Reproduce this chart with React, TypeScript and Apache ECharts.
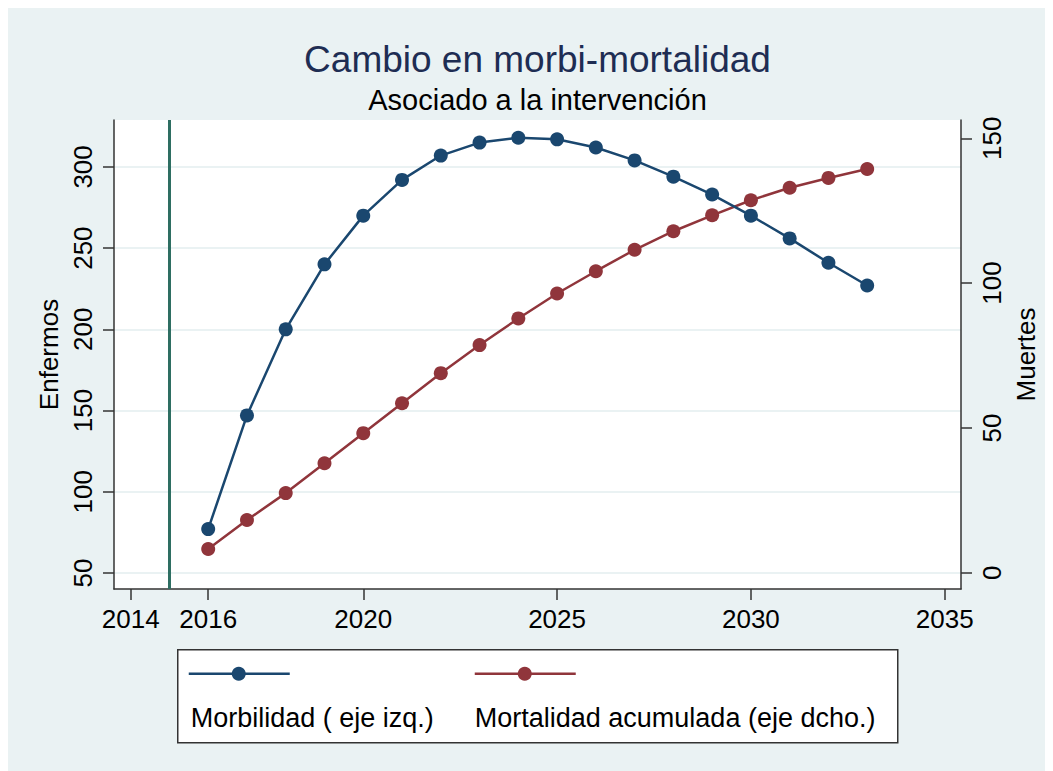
import React, { useEffect, useRef } from "react";
import * as echarts from "echarts";

const years = [2016, 2017, 2018, 2019, 2020, 2021, 2022, 2023, 2024, 2025, 2026, 2027, 2028, 2029, 2030, 2031, 2032, 2033];
const morbilidad = [77, 147, 200, 240, 270, 292, 307, 315, 318, 317, 312, 304, 294, 283, 270, 256, 241, 227];
const mortalidad = [8.2, 18.2, 27.5, 37.8, 48.2, 58.5, 68.9, 78.6, 87.8, 96.4, 104.1, 111.5, 117.9, 123.4, 128.6, 132.9, 136.3, 139.4];
const interventionYear = 2015;
const xTicks = [2014, 2016, 2020, 2025, 2030, 2035];
const leftTicks = [50, 100, 150, 200, 250, 300];
const rightTicks = [0, 50, 100, 150];

const titleText = "Cambio en morbi-mortalidad";
const subtitleText = "Asociado a la intervención";
const leftName = "Enfermos";
const rightName = "Muertes";
const legendNames = ["Morbilidad ( eje izq.)", "Mortalidad acumulada (eje dcho.)"];

const FONT = "'Liberation Sans', Arial, sans-serif";
const BLUE = "#1A476F";
const RED = "#90353B";
const TEAL = "#2E6E62";
const BG = "#EAF2F3";
const AXIS = "#333333";

export default function App() {
  const ref = useRef<HTMLDivElement>(null);
  useEffect(() => {
    if (!ref.current) return;
    const chart = echarts.init(ref.current, null, { renderer: "svg" });
    const blueData = years.map((y, i) => [y, morbilidad[i]]);
    const redData = years.map((y, i) => [y, mortalidad[i]]);
    const axisLine = { show: true, lineStyle: { color: AXIS, width: 1.5 } };
    const axisTickBase = { show: true, length: 11, inside: false, lineStyle: { color: AXIS, width: 1.5 } };
    const labelBase = { color: "#000", fontSize: 26, fontFamily: FONT, formatter: (v: number) => String(v) };
    chart.setOption({
      animation: false,
      backgroundColor: BG,
      textStyle: { fontFamily: FONT },
      title: [
        {
          text: titleText,
          left: 524.5,
          top: 28,
          textAlign: "center",
          textStyle: { color: "#1E2D53", fontSize: 37, fontWeight: "normal", fontFamily: FONT },
        },
        {
          text: subtitleText,
          left: 524.5,
          top: 72,
          textAlign: "center",
          textStyle: { color: "#000", fontSize: 29, fontWeight: "normal", fontFamily: FONT },
        },
      ],
      grid: {
        left: 106,
        top: 112,
        right: 92,
        bottom: 182,
        show: true,
        backgroundColor: "#ffffff",
        borderWidth: 0,
        containLabel: false,
      },
      xAxis: {
        type: "value",
        min: 2013.57,
        max: 2035.42,
        axisLine: { ...axisLine, onZero: false },
        axisTick: { ...axisTickBase, customValues: xTicks },
        axisLabel: { ...labelBase, customValues: xTicks, margin: 17 },
        splitLine: { show: false },
      },
      yAxis: [
        {
          type: "value",
          position: "left",
          min: 40.1,
          max: 328.9,
          name: leftName,
          nameLocation: "middle",
          nameGap: 50,
          nameTextStyle: { color: "#000", fontSize: 26, fontFamily: FONT },
          axisLine: { ...axisLine, onZero: false },
          axisTick: { ...axisTickBase, customValues: leftTicks },
          axisLabel: { ...labelBase, customValues: leftTicks, rotate: 90, margin: 18 },
          splitLine: { show: true, lineStyle: { color: BG, width: 2 } },
        },
        {
          type: "value",
          position: "right",
          min: -5.6,
          max: 156.3,
          name: rightName,
          nameLocation: "middle",
          nameGap: 46,
          nameRotate: 90,
          nameTextStyle: { color: "#000", fontSize: 26, fontFamily: FONT },
          axisLine: { ...axisLine, onZero: false },
          axisTick: { ...axisTickBase, customValues: rightTicks },
          axisLabel: { ...labelBase, customValues: rightTicks, rotate: 90, margin: 18 },
          splitLine: { show: false },
        },
      ],
      series: [
        {
          name: legendNames[0],
          type: "line",
          yAxisIndex: 0,
          data: blueData,
          symbol: "circle",
          symbolSize: 14,
          lineStyle: { color: BLUE, width: 2.5 },
          itemStyle: { color: BLUE },
          markLine: {
            silent: true,
            symbol: "none",
            label: { show: false },
            lineStyle: { color: TEAL, width: 3, type: "solid" },
            data: [{ xAxis: interventionYear }],
          },
          z: 3,
        },
        {
          name: legendNames[1],
          type: "line",
          yAxisIndex: 1,
          data: redData,
          symbol: "circle",
          symbolSize: 14,
          lineStyle: { color: RED, width: 2.5 },
          itemStyle: { color: RED },
          z: 2,
        },
      ],
      graphic: [
        {
          type: "group",
          left: 169,
          top: 641,
          children: [
            { type: "rect", shape: { x: 0, y: 0, width: 720, height: 93 }, style: { fill: "#fff", stroke: AXIS, lineWidth: 1.5 } },
            { type: "line", shape: { x1: 11, y1: 24, x2: 112, y2: 24 }, style: { stroke: BLUE, lineWidth: 2.5 } },
            { type: "circle", shape: { cx: 61, cy: 24, r: 7 }, style: { fill: BLUE } },
            { type: "line", shape: { x1: 297, y1: 24, x2: 398, y2: 24 }, style: { stroke: RED, lineWidth: 2.5 } },
            { type: "circle", shape: { cx: 347, cy: 24, r: 7 }, style: { fill: RED } },
            { type: "text", x: 13, y: 68, style: { text: legendNames[0], fill: "#000", font: `27px ${FONT}`, textVerticalAlign: "middle" } },
            { type: "text", x: 297, y: 68, style: { text: legendNames[1], fill: "#000", font: `27px ${FONT}`, textVerticalAlign: "middle" } },
          ],
        },
      ],
    });
    return () => chart.dispose();
  }, []);
  return <div ref={ref} style={{ width: 1045, height: 763 }} />;
}
